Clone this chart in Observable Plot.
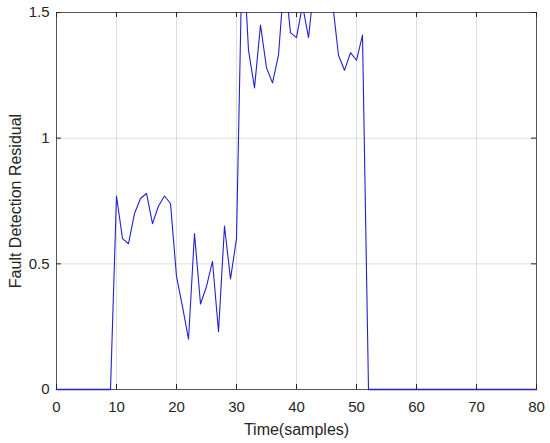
<!DOCTYPE html>
<html>
<head>
<meta charset="utf-8">
<script src="https://cdn.jsdelivr.net/npm/d3@7"></script>
<script src="https://cdn.jsdelivr.net/npm/@observablehq/plot@0.6"></script>
<style>
  html, body { margin: 0; padding: 0; background: #fff; }
  #chart svg { display: block; }
</style>
</head>
<body>
<div id="chart"></div>
<script>
// Sample index (time in samples)
const samples = d3.range(0, 81);
// Fault detection residual per sample (values above 1.5 are clipped in the figure, estimated)
const residual = [
  0, 0, 0, 0, 0, 0, 0, 0, 0, 0,
  0.77, 0.60, 0.58, 0.70, 0.76, 0.78, 0.66, 0.73, 0.77, 0.74,
  0.45, 0.33, 0.20, 0.62, 0.34, 0.41, 0.51, 0.23, 0.65, 0.44,
  0.60, 1.80, 1.35, 1.20, 1.45, 1.28, 1.22, 1.33, 1.65, 1.42,
  1.40, 1.53, 1.40, 1.62, 1.70, 1.65, 1.54, 1.33, 1.27, 1.34,
  1.31, 1.41, 0, 0, 0, 0, 0, 0, 0, 0,
  0, 0, 0, 0, 0, 0, 0, 0, 0, 0,
  0, 0, 0, 0, 0, 0, 0, 0, 0, 0,
  0
];
const xTicks = [0, 10, 20, 30, 40, 50, 60, 70, 80];
const yTicks = [0, 0.5, 1, 1.5];
const xLabel = "Time(samples)";
const yLabel = "Fault Detection Residual";

const data = samples.map((s, i) => ({t: s, r: residual[i]}));

const W = 550, H = 443;
const mL = 56, mR = 14, mT = 12, mB = 54;
const pw = W - mL - mR, ph = H - mT - mB;
const tk = 5;
const axisColor = "#262626";
const lineColor = "#2222d0";

const chart = Plot.plot({
  width: W,
  height: H,
  marginLeft: mL,
  marginRight: mR,
  marginTop: mT,
  marginBottom: mB,
  style: {fontFamily: "'Liberation Sans', Arial, Helvetica, sans-serif", fontSize: "15px", color: axisColor, background: "#fff"},
  x: {domain: [0, 80]},
  y: {domain: [0, 1.5]},
  marks: [
    Plot.gridX(xTicks, {stroke: axisColor, strokeOpacity: 0.15}),
    Plot.gridY(yTicks, {stroke: axisColor, strokeOpacity: 0.15}),
    Plot.tickX(xTicks, {x: d => d, insetTop: ph - tk, stroke: axisColor}),
    Plot.tickX(xTicks, {x: d => d, insetBottom: ph - tk, stroke: axisColor}),
    Plot.tickY(yTicks, {y: d => d, insetRight: pw - tk, stroke: axisColor}),
    Plot.tickY(yTicks, {y: d => d, insetLeft: pw - tk, stroke: axisColor}),
    Plot.frame({stroke: axisColor, strokeOpacity: 0.75}),
    Plot.line(data, {x: "t", y: "r", stroke: lineColor, strokeWidth: 1.1, clip: true}),
    // zero-valued stretches drawn unclipped so they stay visible on the bottom axis
    Plot.line(data, {x: "t", y: d => (d.r === 0 ? 0 : NaN), stroke: lineColor, strokeWidth: 1.6}),
    Plot.axisX(xTicks, {
      tickSize: 0, tickPadding: 12, fontSize: 15,
      label: xLabel, labelAnchor: "center", labelArrow: "none", labelOffset: 45
    }),
    Plot.axisY(yTicks, {
      tickSize: 0, tickPadding: 7, fontSize: 15,
      tickFormat: d => String(d),
      label: yLabel, labelAnchor: "center", labelArrow: "none", labelOffset: 47
    })
  ]
});
// axis titles slightly larger than tick labels
chart.querySelectorAll("[aria-label='x-axis label'] text, [aria-label='y-axis label'] text").forEach(t => t.setAttribute("font-size", "16"));
document.getElementById("chart").appendChild(chart);
</script>
</body>
</html>
